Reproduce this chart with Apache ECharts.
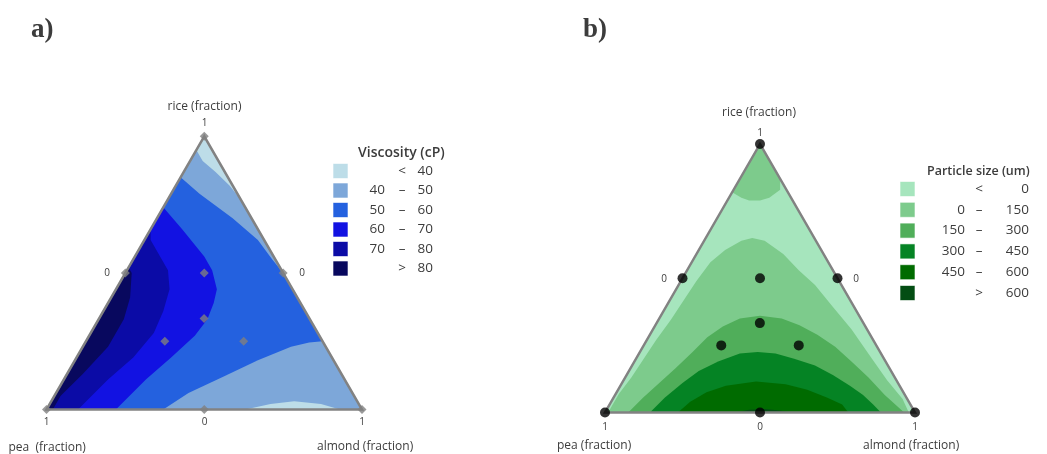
<!DOCTYPE html>
<html>
<head>
<meta charset="utf-8">
<script src="https://cdn.jsdelivr.net/npm/echarts@6/dist/echarts.min.js"></script>
<style>
html, body { margin: 0; padding: 0; background: #fff; }
#chart { width: 1047px; height: 454px; }
</style>
</head>
<body>
<div id="chart"></div>
<script>
// all mixture points are [rice, almond]; pea = 1 - rice - almond
const designPoints = [[1, 0], [0, 0], [0, 1], [0.5, 0], [0.5, 0.5], [0, 0.5], [0.5, 0.25], [0.333, 0.333], [0.25, 0.25], [0.25, 0.5]]

// a) viscosity contour lines
const viscTop40 = [[0.95, 0], [0.91, 0.04], [0.87, 0.10], [0.82, 0.17], [0.77, 0.23]]
const viscTop50 = [[0.85, 0], [0.79, 0.09], [0.70, 0.24], [0.62, 0.36], [0.55, 0.44], [0.50, 0.50]]
const viscLow50 = [[0, 0.37], [0.06, 0.42], [0.12, 0.50], [0.18, 0.58], [0.23, 0.66], [0.245, 0.71], [0.25, 0.75]]
const viscLow40 = [[0, 0.63], [0.02, 0.70], [0.03, 0.77], [0.02, 0.86], [0, 0.93]]
const visc60 = [[0.74, 0], [0.66, 0.10], [0.56, 0.22], [0.51, 0.27], [0.44, 0.32], [0.39, 0.335], [0.33, 0.345], [0.27, 0.335], [0.19, 0.30], [0.11, 0.26], [0, 0.22]]
const visc70 = [[0.66, 0], [0.62, 0.02], [0.54, 0.10], [0.51, 0.13], [0.44, 0.17], [0.36, 0.19], [0.28, 0.20], [0.19, 0.18], [0.11, 0.14], [0, 0.10]]
const visc80 = [[0.52, 0], [0.50, 0.02], [0.41, 0.06], [0.33, 0.08], [0.23, 0.08], [0.13, 0.05], [0.05, 0.02], [0, 0.02]]

// b) particle size contour lines
const sizeTop0 = [[0.82, 0], [0.80, 0.04], [0.79, 0.07], [0.79, 0.105], [0.80, 0.13], [0.83, 0.15], [0.87, 0.13]]
const size0 = [[0, 0.01], [0.07, 0.01], [0.13, 0.02], [0.20, 0.025], [0.27, 0.03], [0.345, 0.04], [0.42, 0.045], [0.49, 0.05], [0.56, 0.06], [0.605, 0.085], [0.64, 0.12], [0.65, 0.15], [0.64, 0.195], [0.59, 0.28], [0.53, 0.36], [0.475, 0.44], [0.40, 0.53], [0.31, 0.64], [0.21, 0.75], [0.12, 0.85], [0.05, 0.935], [0, 0.98]]
const size150 = [[0, 0.075], [0.055, 0.095], [0.11, 0.12], [0.165, 0.145], [0.225, 0.17], [0.28, 0.19], [0.32, 0.22], [0.35, 0.26], [0.36, 0.32], [0.35, 0.395], [0.325, 0.465], [0.29, 0.54], [0.245, 0.62], [0.19, 0.70], [0.13, 0.785], [0.065, 0.87], [0, 0.965]]
const size300 = [[0, 0.145], [0.055, 0.165], [0.11, 0.195], [0.155, 0.225], [0.19, 0.27], [0.22, 0.325], [0.225, 0.38], [0.22, 0.44], [0.20, 0.51], [0.175, 0.59], [0.14, 0.665], [0.10, 0.74], [0.065, 0.80], [0.03, 0.85], [0, 0.89]]
const size450 = [[0, 0.235], [0.04, 0.255], [0.075, 0.29], [0.10, 0.34], [0.115, 0.43], [0.105, 0.53], [0.085, 0.61], [0.055, 0.69], [0.03, 0.75], [0, 0.785]]
const size600 = [[0, 0.42], [0.01, 0.46], [0.013, 0.51], [0.007, 0.56], [0, 0.60]]

// legends
const viscColors = ['#bddde8', '#7da7d9', '#2461df', '#1212e2', '#0b0ba6', '#08085e']
const viscLow = ['', '40', '50', '60', '70', '']
const viscSym = ['<', '–', '–', '–', '–', '>']
const viscHigh = ['40', '50', '60', '70', '80', '80']
const sizeColors = ['#a6e5bd', '#7dcb8c', '#50ae5a', '#058324', '#006b00', '#034d13']
const sizeLow = ['', '0', '150', '300', '450', '']
const sizeSym = ['<', '–', '–', '–', '–', '>']
const sizeHigh = ['0', '150', '300', '450', '600', '600']

const SQ = Math.sqrt(3) / 2
const TOP = [1, 0], PEA = [0, 0], ALM = [0, 1]

function toXY (p) {
    return [p[1] + p[0] / 2, p[0] * SQ]
}

const viscPolys = [
    [[TOP, PEA, ALM], viscColors[2]],
    [[TOP].concat(viscTop50), viscColors[1]],
    [[TOP].concat(viscTop40), viscColors[0]],
    [viscLow50.concat([ALM]), viscColors[1]],
    [viscLow40, viscColors[0]],
    [visc60.concat([PEA]), viscColors[3]],
    [visc70.concat([PEA]), viscColors[4]],
    [visc80.concat([PEA]), viscColors[5]]
]
const sizePolys = [
    [[TOP, PEA, ALM], sizeColors[0]],
    [size0, sizeColors[1]],
    [[TOP].concat(sizeTop0), sizeColors[1]],
    [size150, sizeColors[2]],
    [size300, sizeColors[3]],
    [size450, sizeColors[4]],
    [size600, sizeColors[5]]
]

function regionSeries (idx, polys) {
    return {
        type: 'custom', xAxisIndex: idx, yAxisIndex: idx, silent: true, z: 1,
        data: polys.map(() => [0.5, 0.3]),
        renderItem: function (params, api) {
            const item = polys[params.dataIndex]
            return {
                type: 'polygon',
                shape: { points: item[0].map(p => api.coord(toXY(p))) },
                style: { fill: item[1] }
            }
        }
    }
}

function outlineSeries (idx) {
    return {
        type: 'custom', xAxisIndex: idx, yAxisIndex: idx, silent: true, z: 3,
        data: [[0.5, 0.3]],
        renderItem: function (params, api) {
            return {
                type: 'polygon',
                shape: { points: [TOP, PEA, ALM].map(p => api.coord(toXY(p))) },
                style: { fill: 'none', stroke: '#828282', lineWidth: 2.5 }
            }
        }
    }
}

function txt (x, y, text, font, align) {
    return {
        type: 'text', x: x, y: y, silent: true,
        style: { text: text, font: font, fill: '#3c3c3c', textAlign: align || 'center', textVerticalAlign: 'middle' }
    }
}

function legend (x, y0, step, title, titleFont, colors, low, sym, high, cols) {
    const out = [txt(cols[3], y0 - 18, title, titleFont, 'left')]
    colors.forEach((c, i) => {
        const y = y0 + i * step
        out.push({ type: 'rect', silent: true, shape: { x: x, y: y - 7.5, width: 15, height: 15 }, style: { fill: c, stroke: 'rgba(255,255,255,0.6)', lineWidth: 1 } })
        out.push(txt(cols[0], y, low[i], '13.5px "Open Sans"', 'right'))
        out.push(txt(cols[1], y, sym[i], '13.5px "Open Sans"', 'center'))
        out.push(txt(cols[2], y, high[i], '13.5px "Open Sans"', 'right'))
    })
    return out
}

const small = '10px "Open Sans"'
const axisFont = '12px "Open Sans"'
const graphics = [
    txt(31, 30, 'a)', 'bold 27px "Liberation Serif"', 'left'),
    txt(583, 30, 'b)', 'bold 27px "Liberation Serif"', 'left'),
    txt(204.5, 106.5, 'rice (fraction)', axisFont),
    txt(204.5, 123, '1', small),
    txt(107, 273, '0', small),
    txt(302, 273, '0', small),
    txt(46.5, 422.5, '1', small),
    txt(204.5, 422.5, '0', small),
    txt(362, 422.5, '1', small),
    txt(8.5, 447.5, 'pea  (fraction)', axisFont, 'left'),
    txt(317, 446.5, 'almond (fraction)', axisFont, 'left'),
    txt(759, 113, 'rice (fraction)', axisFont),
    txt(760, 133, '1', small),
    txt(664, 279, '0', small),
    txt(856, 279, '0', small),
    txt(605, 427, '1', small),
    txt(760, 427, '0', small),
    txt(915, 427, '1', small),
    txt(557, 445.5, 'pea (fraction)', axisFont, 'left'),
    txt(863, 445.5, 'almond (fraction)', axisFont, 'left')
].concat(
    legend(333, 171, 19.5, 'Viscosity (cP)', '600 14px "Open Sans"', viscColors, viscLow, viscSym, viscHigh, [385, 402, 433, 358]),
    legend(900, 189, 20.8, 'Particle size (um)', '600 12.5px "Open Sans"', sizeColors, sizeLow, sizeSym, sizeHigh, [965, 979, 1029, 927])
)

const chart = echarts.init(document.getElementById('chart'))
const hiddenX = { type: 'value', min: 0, max: 1, show: false }
const hiddenY = { type: 'value', min: 0, max: SQ, show: false }

chart.setOption({
    animation: false,
    grid: [
        { left: 46.5, top: 136.3, width: 315.5, height: 273.2 },
        { left: 605, top: 144, width: 310, height: 268.5 }
    ],
    xAxis: [Object.assign({ gridIndex: 0 }, hiddenX), Object.assign({ gridIndex: 1 }, hiddenX)],
    yAxis: [Object.assign({ gridIndex: 0 }, hiddenY), Object.assign({ gridIndex: 1 }, hiddenY)],
    graphic: graphics,
    series: [
        regionSeries(0, viscPolys),
        outlineSeries(0),
        {
            type: 'scatter', xAxisIndex: 0, yAxisIndex: 0, z: 5, silent: true,
            symbol: 'diamond', symbolSize: 9,
            itemStyle: { color: '#808080' },
            data: designPoints.map(toXY)
        },
        regionSeries(1, sizePolys),
        outlineSeries(1),
        {
            type: 'scatter', xAxisIndex: 1, yAxisIndex: 1, z: 5, silent: true,
            symbol: 'circle', symbolSize: 10,
            itemStyle: { color: '#000' },
            data: designPoints.map(toXY)
        }
    ]
})
</script>
</body>
</html>
